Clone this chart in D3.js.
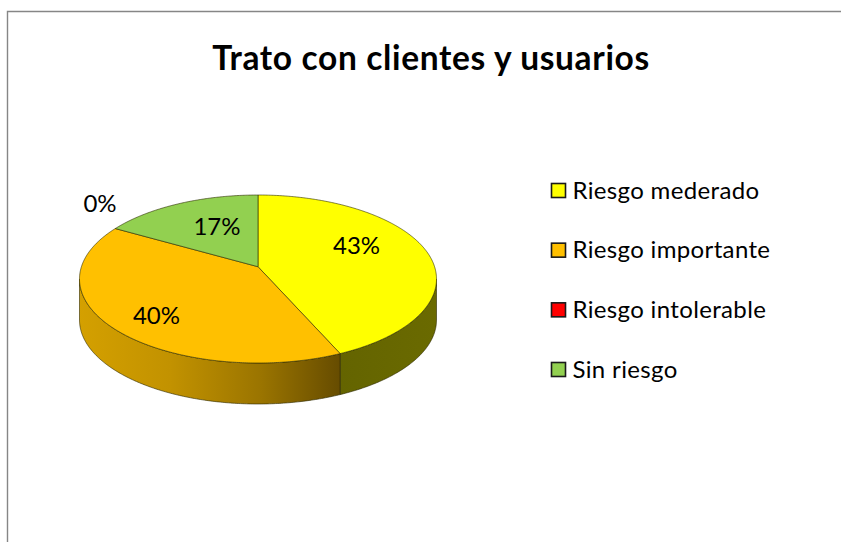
<!DOCTYPE html>
<html><head><meta charset="utf-8">
<script src="https://cdn.jsdelivr.net/npm/d3@7"></script>
<style>html,body{margin:0;padding:0;background:#fff}svg{display:block}text{font-family:Lato,"Open Sans",sans-serif;fill:#000}</style>
</head><body><div id="c"></div>
<script>
const title = "Trato con clientes y usuarios";
const categories = ["Riesgo mederado","Riesgo importante","Riesgo intolerable","Sin riesgo"];
const values = [43.4,39.9,0,16.7];
const labels = ["43%","40%","0%","17%"];
const colors = ["#FFFF00","#FFC000","#FF0000","#92D050"];
const W=841,H=542;
const svg=d3.select("#c").append("svg").attr("width",W).attr("height",H);
const defs=svg.append("defs");

const x=d3.scaleLinear().domain([-1,1]).range([79.5,436.5]);
const y=d3.scaleLinear().domain([-1,1]).range([195,363]);
const depth=41, c=-0.146, k=Math.sqrt(1-c*c);
// projective map of the unit circle onto the tilted ellipse
const proj=(a,r=1)=>{const u=r*Math.sin(a),v=-r*Math.cos(a),d=1+c*v;return [k*u/d,(v+c)/d];};
const line=d3.line().x(p=>x(p[0])).y(p=>y(p[1]));
const sample=(a0,a1)=>{const n=Math.max(2,Math.ceil((a1-a0)/0.01));return d3.range(n+1).map(i=>a0+(a1-a0)*i/n);};

const pie=d3.pie().sort(null).value(d=>d)(values);

// frame
svg.append("path").attr("d",`M7.5,${H}V11.5H${W}`).attr("fill","none").attr("stroke","#868686").attr("stroke-width",1.4);

svg.append("text").attr("x",431).attr("y",69.5).attr("text-anchor","middle").attr("font-weight",700).attr("font-size",33.5).attr("letter-spacing",.65).text(title);

// side gradients
const g1=defs.append("linearGradient").attr("id","sideOrange").attr("gradientUnits","userSpaceOnUse").attr("x1",79).attr("x2",340).attr("y1",0).attr("y2",0);
[[0,"#d4a000"],[.35,"#c29200"],[.7,"#9a7400"],[1,"#664c00"]].forEach(s=>g1.append("stop").attr("offset",s[0]).attr("stop-color",s[1]));
const g2=defs.append("linearGradient").attr("id","sideYellow").attr("gradientUnits","userSpaceOnUse").attr("x1",340).attr("x2",436).attr("y1",0).attr("y2",0);
[[0,"#646400"],[1,"#6a6a00"]].forEach(s=>g2.append("stop").attr("offset",s[0]).attr("stop-color",s[1]));
const sideFill=["url(#sideYellow)","url(#sideOrange)",null,null];

// side walls
pie.forEach((s,i)=>{
  if(s.value===0) return;
  const as=sample(s.startAngle,s.endAngle).filter(a=>proj(a)[1]>=0);
  if(as.length<2) return;
  const top=as.map(a=>proj(a));
  const dy=y.invert(y(0)+depth)-y.invert(y(0));
  const bot=top.map(p=>[p[0],p[1]+dy]).reverse();
  svg.append("path").attr("d",line([...top,...bot])+"Z")
    .attr("fill",sideFill[i]||colors[i]).attr("stroke","#2a2600").attr("stroke-width",.8).attr("stroke-opacity",.75);
});

// top faces
pie.forEach((s,i)=>{
  if(s.value===0) return;
  const pts=[proj(0,0),...sample(s.startAngle,s.endAngle).map(a=>proj(a))];
  svg.append("path").attr("d",line(pts)+"Z").attr("fill",colors[i])
    .attr("stroke","#2a2a00").attr("stroke-width",.8).attr("stroke-opacity",.75);
});

// data labels, positioned in the pie's own scale space
const labelPos=[[.552,-.393],[-.569,.44],[-.885,-.893],[-.23,-.62]];
labels.forEach((t,i)=>svg.append("text").attr("x",x(labelPos[i][0])).attr("y",y(labelPos[i][1])+8.5)
  .attr("text-anchor","middle").attr("font-size",24).text(t));

// legend
const ly=d3.scalePoint().domain(categories).range([190.5,369.5]);
const lg=svg.selectAll("g.l").data(categories).join("g").attr("class","l").attr("transform",d=>`translate(0,${ly(d)})`);
lg.append("rect").attr("x",551.5).attr("y",-7).attr("width",14).attr("height",14)
  .attr("fill",(d,i)=>colors[i]).attr("stroke","#1a1a1a").attr("stroke-width",1.6);
lg.append("text").attr("x",572.5).attr("y",8).attr("font-size",24).attr("letter-spacing",.35).text(d=>d);
</script></body></html>
